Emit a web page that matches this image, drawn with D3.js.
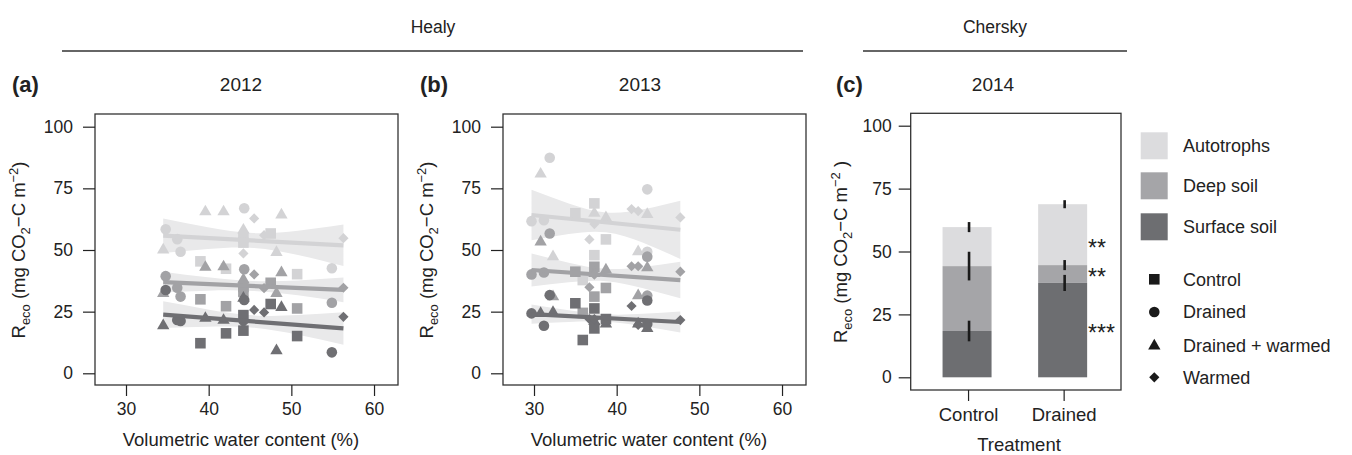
<!DOCTYPE html>
<html>
<head>
<meta charset="utf-8">
<script src="https://cdn.jsdelivr.net/npm/d3@7"></script>
<style>
  body { margin: 0; background: #fff; }
  text { font-family: "Liberation Sans", Arial, Helvetica, sans-serif; fill: #222; }
</style>
</head>
<body>
<svg id="chart" width="1352" height="455"></svg>
<script>
// ---- data ----
const treatments = ["Control", "Drained", "Drained + warmed", "Warmed"];
const components = ["Autotrophs", "Deep soil", "Surface soil"];

// Healy 2012: one entry per plot (water content, treatment index, three fluxes)
const vwc2012  = [34.5, 34.8, 36.2, 36.6, 39.0, 39.6, 41.8, 42.1, 44.2, 44.2, 44.2, 44.2, 44.3, 45.5, 46.7, 47.5, 48.2, 48.8, 50.7, 54.9, 56.3];
const trt2012  = [2, 1, 1, 1, 0, 2, 2, 0, 2, 0, 0, 3, 1, 3, 3, 0, 2, 2, 0, 1, 3];
const auto2012 = [50.0, 58.4, 54.4, 49.3, 45.4, 65.5, 65.5, 42.4, 58.1, 53.0, 55.0, 48.6, 66.9, 62.8, 56.0, 56.7, 49.0, 64.2, 40.2, 42.6, 54.8];
const deep2012 = [32.4, 39.4, 34.7, 31.1, 30.0, 43.0, 43.2, 27.2, 38.0, 35.0, 33.0, 31.5, 42.2, 40.1, 34.5, 36.7, 32.4, 40.8, 26.3, 28.6, 34.7];
const surf2012 = [19.3, 33.8, 21.6, 21.2, 12.2, 22.3, 21.5, 16.2, 30.5, 23.6, 17.3, 20.5, 29.7, 25.7, 24.7, 28.1, 9.2, 26.7, 15.1, 8.5, 22.9];

// Healy 2013
const vwc2013  = [29.7, 30.8, 31.2, 31.9, 32.3, 35.0, 35.9, 36.7, 37.3, 37.3, 37.3, 37.3, 38.7, 38.7, 41.8, 42.6, 42.6, 43.7, 43.7, 43.7, 47.7];
const trt2013  = [1, 2, 1, 1, 2, 0, 0, 3, 0, 0, 2, 3, 2, 0, 3, 3, 2, 2, 1, 1, 3];
const auto2013 = [61.7, 80.8, 62.1, 87.4, 47.3, 64.9, 37.8, 54.3, 68.9, 47.9, 64.9, 60.5, 63.1, 54.3, 66.6, 65.8, 49.3, 64.4, 74.6, 49.3, 63.2];
const deep2013 = [40.1, 53.3, 40.9, 56.7, 31.1, 41.2, 24.5, 34.9, 43.2, 31.1, 40.5, 40.0, 41.9, 34.6, 43.4, 43.4, 31.5, 42.8, 47.3, 31.5, 41.2];
const surf2013 = [24.3, 24.3, 19.3, 31.7, 24.7, 28.4, 13.5, 22.0, 26.3, 18.2, 21.0, 22.0, 20.0, 22.0, 27.3, 19.6, 20.0, 18.2, 29.5, 20.0, 21.6];

// fitted lines (start, end) and confidence half widths along the fit
const fitX2012 = [34.5, 56.3];
const fitAuto2012 = [55.8, 51.9], fitDeep2012 = [37.0, 33.8], fitSurf2012 = [23.8, 18.2];
const bandX2012 = [34.5, 39.9, 45.4, 50.8, 56.3];
const bandAuto2012 = [7.0, 4.4, 3.0, 4.9, 8.4];
const bandDeep2012 = [4.2, 2.7, 2.0, 3.0, 5.0];
const bandSurf2012 = [5.4, 3.5, 2.5, 4.0, 6.6];

const fitX2013 = [29.7, 47.7];
const fitAuto2013 = [64.2, 58.2], fitDeep2013 = [41.9, 37.8], fitSurf2013 = [24.0, 20.8];
const bandX2013 = [29.7, 34.2, 38.7, 43.2, 47.7];
const bandAuto2013 = [10.2, 6.2, 4.0, 6.8, 11.8];
const bandDeep2013 = [6.7, 4.0, 2.5, 4.3, 7.4];
const bandSurf2013 = [3.9, 2.35, 1.5, 2.5, 4.3];

// Chersky 2014 stacked means and error half widths
const sites2014 = ["Control", "Drained"];
const surf2014 = [18.4, 37.5];
const deep2014 = [25.8, 7.1];
const auto2014 = [15.5, 24.2];
const surfErr2014 = [4.1, 3.2];
const deepErr2014 = [5.7, 2.0];
const autoErr2014 = [2.0, 1.6];
const stars2014 = [["**", 53.4], ["**", 41.9], ["***", 19.6]];

const yTicks = [0, 25, 50, 75, 100];
const xTicks = [30, 40, 50, 60];

// ---- styles ----
const compColors = ["#d3d3d5", "#a2a2a5", "#6f6f73"];
const barColors = ["#dcdcde", "#a5a5a8", "#6d6e71"];
const bandColor = "#e9e9ea";
const FS = 17.5;     // tick labels
const FT = 18.5;     // axis titles

const svg = d3.select("#chart");

function shapeFor(t) {
  if (t === 0) return d3.symbol().type(d3.symbolSquare).size(112)();
  if (t === 1) return d3.symbol().type(d3.symbolCircle).size(88)();
  if (t === 2) return d3.symbol().type(d3.symbolTriangle).size(66)();
  return d3.symbol().type(d3.symbolSquare).size(52)();
}

function yLabel(g, x, y, spaced) {
  const t = g.append("text")
    .attr("transform", `translate(${x},${y}) rotate(-90)`)
    .attr("text-anchor", "middle")
    .attr("font-size", FT);
  t.append("tspan").text("R");
  t.append("tspan").text("eco").attr("font-size", FT * 0.7).attr("dy", 5);
  t.append("tspan").text(" (mg CO").attr("dy", -5);
  t.append("tspan").text("2").attr("font-size", FT * 0.7).attr("dy", 5);
  t.append("tspan").text("\u2212C m").attr("dy", -5);
  t.append("tspan").text("\u22122").attr("font-size", FT * 0.7).attr("dy", -7);
  t.append("tspan").text(spaced ? " )" : ")").attr("dy", 7);
}

function yAxis(g, y, left, pad) {
  g.append("g")
    .attr("transform", `translate(${left},0)`)
    .call(d3.axisLeft(y).tickValues(yTicks).tickSize(12).tickPadding(pad))
    .call(a => a.select(".domain").remove())
    .call(a => a.selectAll("line").attr("stroke", "#222").attr("stroke-width", 1.2))
    .call(a => a.selectAll("text").attr("font-size", FS).attr("fill", "#222"));
}

function scatterPanel(opt) {
  const g = svg.append("g");
  const x = d3.scaleLinear().domain([26.25, 62.9]).range([opt.left, opt.left + 303]);
  const y = d3.scaleLinear().domain([0, 100]).range([373.3, 126.7]);

  const fits = [opt.fitAuto, opt.fitDeep, opt.fitSurf];
  const bands = [opt.bandAuto, opt.bandDeep, opt.bandSurf];
  const vals = [opt.auto, opt.deep, opt.surf];

  // confidence bands
  bands.forEach((b, i) => {
    const f = fits[i];
    const fy = v => f[0] + (f[1] - f[0]) * (v - opt.fitX[0]) / (opt.fitX[1] - opt.fitX[0]);
    const pts = opt.bandX.map((bx, j) => ({ x: bx, lo: fy(bx) - b[j], hi: fy(bx) + b[j] }));
    g.append("path")
      .datum(pts)
      .attr("fill", bandColor)
      .attr("d", d3.area().curve(d3.curveNatural)
        .x(d => x(d.x)).y0(d => y(d.lo)).y1(d => y(d.hi)));
  });

  // points
  vals.forEach((arr, i) => {
    g.append("g").selectAll("path")
      .data(arr.map((v, j) => ({ x: opt.vwc[j], y: v, t: opt.trt[j] })))
      .join("path")
      .attr("d", d => shapeFor(d.t))
      .attr("transform", d => `translate(${x(d.x)},${y(d.y)})` + (d.t === 3 ? " rotate(45)" : ""))
      .attr("fill", compColors[i]);
  });

  // fitted lines
  fits.forEach((f, i) => {
    g.append("path")
      .datum([[opt.fitX[0], f[0]], [opt.fitX[1], f[1]]])
      .attr("fill", "none")
      .attr("stroke", compColors[i])
      .attr("stroke-width", 4.2)
      .attr("d", d3.line().x(d => x(d[0])).y(d => y(d[1])));
  });

  // box
  g.append("rect").attr("x", opt.left).attr("y", 114).attr("width", 303).attr("height", 271)
    .attr("fill", "none").attr("stroke", "#333").attr("stroke-width", 1.3);

  yAxis(g, y, opt.left, 10);
  g.append("g")
    .attr("transform", "translate(0,385)")
    .call(d3.axisBottom(x).tickValues(xTicks).tickSize(11).tickPadding(7))
    .call(a => a.select(".domain").remove())
    .call(a => a.selectAll("line").attr("stroke", "#222").attr("stroke-width", 1.2))
    .call(a => a.selectAll("text").attr("font-size", FS).attr("fill", "#222"));

  g.append("text").attr("x", opt.left + 146).attr("y", 446).attr("text-anchor", "middle")
    .attr("font-size", FT).text("Volumetric water content (%)");
  yLabel(g, opt.left - 70, 250, false);
  g.append("text").attr("x", opt.tagX).attr("y", 92).attr("font-size", 22).attr("font-weight", "bold").text(opt.tag);
  g.append("text").attr("x", opt.titleX).attr("y", 91).attr("text-anchor", "middle").attr("font-size", 19).text(opt.title);
}

scatterPanel({
  left: 95, tag: "(a)", tagX: 12, title: "2012", titleX: 241,
  vwc: vwc2012, trt: trt2012, auto: auto2012, deep: deep2012, surf: surf2012,
  fitX: fitX2012, fitAuto: fitAuto2012, fitDeep: fitDeep2012, fitSurf: fitSurf2012,
  bandX: bandX2012, bandAuto: bandAuto2012, bandDeep: bandDeep2012, bandSurf: bandSurf2012
});
scatterPanel({
  left: 503, tag: "(b)", tagX: 420, title: "2013", titleX: 640,
  vwc: vwc2013, trt: trt2013, auto: auto2013, deep: deep2013, surf: surf2013,
  fitX: fitX2013, fitAuto: fitAuto2013, fitDeep: fitDeep2013, fitSurf: fitSurf2013,
  bandX: bandX2013, bandAuto: bandAuto2013, bandDeep: bandDeep2013, bandSurf: bandSurf2013
});

// ---- panel c: stacked bars ----
const gc = svg.append("g");
const xc = d3.scalePoint().domain(sites2014).range([910.7, 1121]).padding(0.6);
const yc = d3.scaleLinear().domain([0, 100]).range([377.3, 125.7]);
const errs = [surfErr2014, deepErr2014, autoErr2014];
const stackRows = sites2014.map((s, i) => ({ site: s, surf: surf2014[i], deep: deep2014[i], auto: auto2014[i] }));
const stacked = d3.stack().keys(["surf", "deep", "auto"])(stackRows);
const layerColor = { surf: barColors[2], deep: barColors[1], auto: barColors[0] };
const barW = 49;

stacked.forEach(layer => {
  gc.append("g").selectAll("rect")
    .data(layer)
    .join("rect")
    .attr("x", d => xc(d.data.site) - barW / 2 - 1)
    .attr("width", barW)
    .attr("y", d => yc(d[1]))
    .attr("height", d => yc(d[0]) - yc(d[1]))
    .attr("fill", layerColor[layer.key]);
});
stacked.forEach((layer, li) => {
  gc.append("g").selectAll("line")
    .data(layer)
    .join("line")
    .attr("x1", d => xc(d.data.site) + 1).attr("x2", d => xc(d.data.site) + 1)
    .attr("y1", (d, i) => yc(d[1] - errs[li][i]))
    .attr("y2", (d, i) => yc(d[1] + errs[li][i]))
    .attr("stroke", "#1a1a1a").attr("stroke-width", 2.6);
});
gc.selectAll("text.star")
  .data(stars2014)
  .join("text")
  .attr("class", "star")
  .attr("x", 1088).attr("y", d => yc(d[1]) + 13)
  .attr("font-size", 23).text(d => d[0]);

gc.append("rect").attr("x", 910.7).attr("y", 113.3).attr("width", 210.3).attr("height", 276.7)
  .attr("fill", "none").attr("stroke", "#333").attr("stroke-width", 1.3);
yAxis(gc, yc, 910.7, 7);
gc.append("g")
  .attr("transform", "translate(0,390)")
  .call(d3.axisBottom(xc).tickSize(11).tickPadding(7))
  .call(a => a.select(".domain").remove())
  .call(a => a.selectAll("line").attr("stroke", "#222").attr("stroke-width", 1.2))
  .call(a => a.selectAll("text").attr("font-size", FT).attr("fill", "#222"));
gc.append("text").attr("x", 1019).attr("y", 451).attr("text-anchor", "middle").attr("font-size", FT).text("Treatment");
yLabel(gc, 847, 252, true);
gc.append("text").attr("x", 836).attr("y", 92).attr("font-size", 22).attr("font-weight", "bold").text("(c)");
gc.append("text").attr("x", 993).attr("y", 91).attr("text-anchor", "middle").attr("font-size", 19).text("2014");

// legend
const lg = svg.append("g");
components.forEach((c, i) => {
  const yy = [132.3, 172.3, 213.3][i];
  lg.append("rect").attr("x", 1140.7).attr("y", yy).attr("width", 27).attr("height", 27).attr("fill", barColors[i]);
  lg.append("text").attr("x", 1183).attr("y", yy + 13.5).attr("dy", "0.35em").attr("font-size", 18).text(c);
});
treatments.forEach((t, i) => {
  const yy = [279.3, 312, 346, 377.3][i];
  lg.append("path").attr("d", shapeFor(i))
    .attr("transform", `translate(1154.3,${yy})` + (i === 3 ? " rotate(45)" : ""))
    .attr("fill", "#1a1a1a");
  lg.append("text").attr("x", 1183).attr("y", yy).attr("dy", "0.35em").attr("font-size", 18).text(t);
});

// site headers
const hd = svg.append("g");
hd.append("text").attr("x", 433).attr("y", 33).attr("text-anchor", "middle").attr("font-size", FS).text("Healy");
hd.append("line").attr("x1", 62).attr("x2", 803).attr("y1", 51).attr("y2", 51).attr("stroke", "#333").attr("stroke-width", 1.3);
hd.append("text").attr("x", 995).attr("y", 33).attr("text-anchor", "middle").attr("font-size", FS).text("Chersky");
hd.append("line").attr("x1", 863).attr("x2", 1127).attr("y1", 51).attr("y2", 51).attr("stroke", "#333").attr("stroke-width", 1.3);
</script>
</body>
</html>
